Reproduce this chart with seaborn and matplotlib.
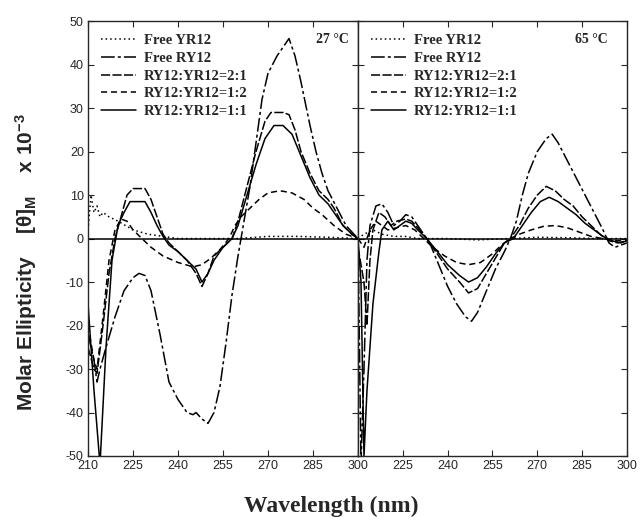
import numpy as np
import pandas as pd

import matplotlib
matplotlib.use("Agg")
import matplotlib.pyplot as plt
import seaborn as sns

sns.set_theme(style="ticks", context="paper",
              rc={"axes.unicode_minus": False,
                  "xtick.direction": "in",
                  "ytick.direction": "in",
                  "axes.linewidth": 1.0,
                  "mathtext.fontset": "custom",
                  "mathtext.rm": "Liberation Sans:bold",
                  "mathtext.bf": "Liberation Sans:bold",
                  "mathtext.it": "Liberation Sans:bold"})
plt.rcParams["font.family"] = ["Liberation Sans", "DejaVu Sans"]

samples = ["Free YR12", "Free RY12", "RY12:YR12=2:1", "RY12:YR12=1:2", "RY12:YR12=1:1"]

# ---- 27 C ----
wl_yr_27 = [210, 211, 212, 213, 214, 215, 217, 220, 225, 230, 240, 250, 260, 270, 280, 290, 300]
cd_yr_27 = [2, 10, 6, 7.5, 5, 6, 5, 4, 2, 1, 0, 0, 0, 0.5, 0.5, 0.3, 0]

wl_ry_27 = [210, 212, 213, 214, 216, 219, 222, 225, 227, 229, 231, 234, 237, 240, 243, 245, 246,
            248, 250, 252, 254, 256, 258, 260, 262, 264, 266, 268, 270, 273, 277, 279, 281, 284,
            286, 288, 290, 293, 296, 300]
cd_ry_27 = [-22, -28, -33, -30, -25, -18, -12, -9, -8, -8.5, -12, -22, -33, -37, -40, -40.5, -40,
            -41.5, -42.5, -40, -34, -24, -13, -4, 4, 12, 22, 32, 38, 42, 46, 42, 36, 26,
            20, 15, 11, 7, 3, 0]

wl_21_27 = [210, 212, 213, 215, 217, 219, 221, 223, 225, 229, 231, 233, 235, 237, 240, 243, 246,
            248, 250, 252, 255, 258, 260, 263, 266, 269, 271, 275, 277, 279, 281, 284, 287, 290,
            292, 295, 298, 300]
cd_21_27 = [-25, -30, -31, -20, -8, 0, 5, 10, 11.5, 11.5, 9, 5, 1, -1, -3, -5, -8,
            -11, -8, -4, -2, 0, 4, 12, 20, 27, 29, 29, 28.5, 25, 20, 15, 11, 9,
            7, 3, 1, 0]

wl_12_27 = [210, 212, 213, 215, 217, 219, 221, 223, 225, 228, 231, 235, 240, 245, 248, 251, 254,
            257, 259, 261, 264, 267, 270, 274, 278, 282, 285, 288, 292, 296, 300]
cd_12_27 = [-20, -28, -30, -18, -5, 2, 4.5, 4, 2, 0, -2, -4, -5.5, -6.5, -6, -4.5, -2.5,
            0, 3, 5, 7, 9, 10.5, 11, 10.5, 9, 7, 5.5, 3, 1, 0]

wl_11_27 = [210, 212, 214, 216, 218, 220, 222, 224, 229, 231, 233, 235, 237, 240, 243, 246, 248,
            250, 252, 255, 258, 260, 263, 266, 269, 272, 275, 278, 281, 284, 287, 290, 292, 295,
            298, 300]
cd_11_27 = [-15, -35, -52, -25, -5, 3, 6, 8.5, 8.5, 6, 3, 0.5, -1.5, -3, -5, -7, -10,
            -8, -5, -2, 0, 3, 10, 17, 23, 26, 26, 24, 19, 14, 10, 8, 6, 3,
            1, 0]

# ---- 65 C ----
wl_yr_65 = [210, 212, 215, 218, 222, 226, 230, 240, 250, 260, 270, 280, 290, 300]
cd_yr_65 = [0, 1, 2, 1, 0.5, 0.5, 0, 0, -0.3, 0, 0.3, 0.2, 0, 0]

wl_ry_65 = [210, 211, 212, 213, 214, 216, 218, 220, 222, 224, 226, 228, 230, 232, 234, 237, 240,
            243, 246, 248, 250, 253, 256, 259, 261, 263, 265, 267, 270, 273, 275, 277, 280, 283,
            286, 289, 292, 294, 296, 298, 300]
cd_ry_65 = [1, -52, -30, -5, 3, 7.5, 8, 6, 3, 4, 5.5, 5, 3, 1, -1, -6, -11,
            -15, -18, -19, -17, -12, -7, -3, 0, 4, 10, 15, 20, 23, 24, 22, 18, 14,
            10, 6, 2, -1, -2, -1.5, -1]

wl_21_65 = [210, 212, 213, 214, 215, 217, 219, 221, 223, 226, 228, 230, 233, 236, 240, 244, 247,
            250, 253, 256, 259, 261, 264, 267, 270, 273, 276, 279, 282, 285, 288, 291, 294, 297,
            300]
cd_21_65 = [-2, -10, -20, -5, 2, 6, 5, 3, 4, 4.5, 4, 2.5, 0, -3, -7, -10, -12.5,
            -11.5, -8, -4.5, -1, 0, 3, 7, 10, 12, 11, 9, 7.5, 5, 3, 1, -0.5, -1,
            -0.5]

wl_12_65 = [210, 212, 214, 216, 218, 220, 223, 226, 229, 232, 235, 239, 243, 247, 251, 255, 258,
            261, 264, 268, 272, 276, 280, 284, 288, 292, 296, 300]
cd_12_65 = [0, -2, 2, 4, 3, 2, 2.5, 3, 2, 0, -2, -4, -5.5, -6, -5.5, -3.5, -1.5,
            0, 1, 2, 2.8, 3, 2.5, 1.5, 0.5, 0, -0.5, -0.5]

wl_11_65 = [210, 211, 212, 213, 215, 217, 218, 220, 222, 224, 226, 228, 230, 233, 236, 240, 244,
            247, 250, 253, 256, 259, 262, 265, 268, 271, 274, 277, 280, 283, 286, 289, 292, 295,
            298, 300]
cd_11_65 = [0, -10, -50, -35, -15, -3, 2, 4, 2, 3, 4, 3.5, 2, 0, -2.5, -6, -8.5,
            -10, -9, -6.5, -3.5, -1, 0, 3, 6, 8.5, 9.5, 8.5, 7, 5.5, 3.5, 2, 0.5, -0.5,
            -1, -0.5]

series_27 = [(wl_yr_27, cd_yr_27), (wl_ry_27, cd_ry_27), (wl_21_27, cd_21_27),
             (wl_12_27, cd_12_27), (wl_11_27, cd_11_27)]
series_65 = [(wl_yr_65, cd_yr_65), (wl_ry_65, cd_ry_65), (wl_21_65, cd_21_65),
             (wl_12_65, cd_12_65), (wl_11_65, cd_11_65)]

dash_map = {"Free YR12": (1, 2),
            "Free RY12": (9, 2, 2, 2),
            "RY12:YR12=2:1": (6, 1.5),
            "RY12:YR12=1:2": (4, 2.5),
            "RY12:YR12=1:1": ""}


def to_frame(series):
    parts = []
    for name, (wl, cd) in zip(samples, series):
        parts.append(pd.DataFrame({"wl": wl, "cd": cd, "sample": name}))
    return pd.concat(parts, ignore_index=True)


fig = plt.figure(figsize=(6.41, 5.29), dpi=100)
ax1 = fig.add_axes([0.1373, 0.138, 0.4212, 0.822])
ax2 = fig.add_axes([0.5585, 0.138, 0.4195, 0.822])

serif = ["Liberation Serif", "DejaVu Serif"]

panels = [(ax1, series_27, "27 °C", 0.965), (ax2, series_65, "65 °C", 0.93)]
for ax, series, temp, tx in panels:
    df = to_frame(series)
    sns.lineplot(data=df, x="wl", y="cd", style="sample", style_order=samples,
                 dashes=dash_map, color="black", linewidth=1.1,
                 estimator=None, sort=False, ax=ax)
    ax.axhline(0, color="black", linewidth=1.1)
    ax.set_xlim(210, 300)
    ax.set_ylim(-50, 50)
    ax.set_xticks(np.arange(210, 301, 15))
    ax.set_yticks(np.arange(-50, 51, 10))
    ax.tick_params(top=True, right=True, length=4, width=0.8, labelsize=9, pad=3)
    ax.set_xlabel("")
    ax.set_ylabel("")
    handles, labels = ax.get_legend_handles_labels()
    ax.legend(handles, labels, loc="upper left", bbox_to_anchor=(0.0, 1.0),
              frameon=False, handlelength=2.4, handletextpad=0.55, labelspacing=0.3,
              borderaxespad=0.5,
              prop={"family": serif, "weight": "bold", "size": 10.5})
    ax.text(tx, 0.957, temp, transform=ax.transAxes, ha="right", va="center",
            family=serif, weight="bold", fontsize=10)

ax2.set_yticklabels([])
ax2.set_xticks(np.arange(210, 301, 15))
ax2.set_xticklabels([""] + [str(v) for v in range(225, 301, 15)])

fig.text(0.517, 0.042, "Wavelength (nm)", ha="center", va="center",
         family=serif, weight="bold", fontsize=17)
fig.text(0.04, 0.505, "Molar Ellipticity    [θ]$_{\\mathbf{M}}$    x 10$^{\\mathbf{-3}}$",
         rotation=90, ha="center", va="center", weight="bold", fontsize=15)

fig.savefig("out.png", dpi=100)
